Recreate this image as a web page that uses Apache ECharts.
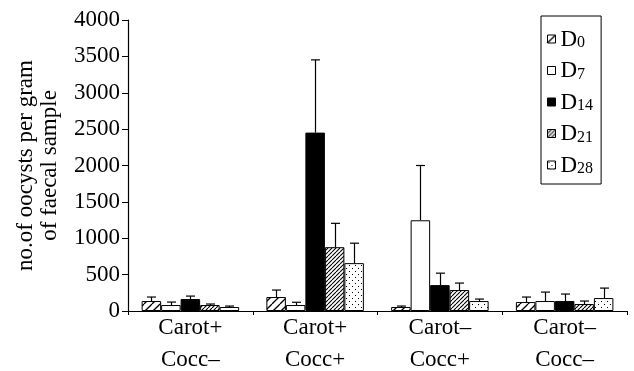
<!DOCTYPE html>
<html><head><meta charset="utf-8">
<script src="https://cdn.jsdelivr.net/npm/echarts@6/dist/echarts.min.js"></script>
<style>html,body{margin:0;padding:0;background:#fff}#c{width:634px;height:371px}</style>
</head><body><div id="c"></div>
<script>
const categories = ['Carot+\nCocc–', 'Carot+\nCocc+', 'Carot–\nCocc+', 'Carot–\nCocc–'];
const seriesNames = ['D0', 'D7', 'D14', 'D21', 'D28'];
const subs = ['0', '7', '14', '21', '28'];
const d0 = [137, 192, 55, 123];
const d7 = [82, 82, 1247, 137];
const d14 = [164, 2452, 356, 137];
const d21 = [82, 877, 288, 96];
const d28 = [55, 658, 137, 178];
const sd0 = [55, 96, 13, 69];
const sd7 = [41, 38, 753, 123];
const sd14 = [41, 1000, 164, 96];
const sd21 = [14, 328, 96, 41];
const sd28 = [13, 274, 27, 137];
const yTicks = [0, 500, 1000, 1500, 2000, 2500, 3000, 3500, 4000];

const means = [d0, d7, d14, d21, d28];
const sds = [sd0, sd7, sd14, sd21, sd28];

function pat(kind) {
  const c = document.createElement('canvas');
  const s = kind === 'sparse' ? 8 : (kind === 'dense' ? 4 : 6);
  c.width = s; c.height = s;
  const g = c.getContext('2d');
  g.fillStyle = '#fff'; g.fillRect(0, 0, s, s);
  g.strokeStyle = '#000'; g.fillStyle = '#000';
  if (kind === 'sparse' || kind === 'dense') {
    g.lineWidth = kind === 'sparse' ? 1.3 : 1.1;
    for (let k = -1; k <= 1; k++) {
      g.beginPath(); g.moveTo(k * s, s); g.lineTo(k * s + s, 0); g.stroke();
    }
  } else if (kind === 'dots') {
    g.fillRect(1, 1, 1, 1); g.fillRect(4, 4, 1, 1);
  }
  return c;
}
const fills = [
  {image: pat('sparse'), repeat: 'repeat'},
  '#ffffff',
  '#000000',
  {image: pat('dense'), repeat: 'repeat'},
  {image: pat('dots'), repeat: 'repeat'}
];
const BW = 19.5;
const font = 'Liberation Serif';

const series = [];
seriesNames.forEach((n, i) => {
  series.push({
    name: n, type: 'bar', data: means[i], barWidth: BW, barGap: '0%',
    itemStyle: {color: fills[i], borderColor: '#000', borderWidth: 1},
    emphasis: {disabled: true}
  });
});
seriesNames.forEach((n, i) => {
  series.push({
    type: 'custom', z: 5, silent: true,
    data: means[i].map((m, j) => [j, m, m + sds[i][j]]),
    renderItem: function (params, api) {
      const base = api.coord([api.value(0), api.value(1)]);
      const top = api.coord([api.value(0), api.value(2)]);
      const x = Math.round(base[0] + (i - 2) * BW) + 0.5;
      const style = {stroke: '#000', lineWidth: 1.2};
      return {type: 'group', children: [
        {type: 'line', shape: {x1: x, y1: base[1], x2: x, y2: top[1]}, style: style},
        {type: 'line', shape: {x1: x - 4.5, y1: top[1], x2: x + 4.5, y2: top[1]}, style: style}
      ]};
    }
  });
});

const chart = echarts.init(document.getElementById('c'));
chart.setOption({
  animation: false,
  backgroundColor: '#fff',
  grid: {left: 128, right: 7, top: 20, bottom: 60, containLabel: false, outerBoundsMode: 'none'},
  legend: {
    data: seriesNames, orient: 'vertical', left: 541, top: 16,
    backgroundColor: '#fff', borderColor: '#000', borderWidth: 1,
    padding: [7, 8, 7, 6], itemGap: 3.5,
    itemWidth: 8, itemHeight: 8, icon: 'rect',
    itemStyle: {borderColor: '#000', borderWidth: 1},
    formatter: function (name) { return '{d|D}{s|' + subs[seriesNames.indexOf(name)] + '}'; },
    textStyle: {
      color: '#000', fontFamily: font,
      rich: {
        d: {fontSize: 23, fontFamily: font, color: '#000', lineHeight: 24, verticalAlign: 'bottom'},
        s: {fontSize: 16, fontFamily: font, color: '#000', lineHeight: 24, verticalAlign: 'bottom', padding: [12, 0, 0, 0]}
      }
    }
  },
  xAxis: {
    type: 'category', data: categories, boundaryGap: true,
    axisLine: {lineStyle: {color: '#000', width: 1.2}},
    axisTick: {show: true, length: 4, lineStyle: {color: '#000'}},
    axisLabel: {color: '#000', fontFamily: font, fontSize: 23, lineHeight: 32, margin: 1}
  },
  yAxis: {
    type: 'value', min: 0, max: 4000, interval: 500,
    name: 'no.of oocysts per gram\nof faecal sample', nameLocation: 'middle', nameGap: 66, nameRotate: 90,
    nameTextStyle: {color: '#000', fontFamily: font, fontSize: 23, lineHeight: 24},
    splitLine: {show: false},
    axisLine: {show: true, lineStyle: {color: '#000', width: 1.2}},
    axisTick: {show: true, length: 6, lineStyle: {color: '#000'}},
    axisLabel: {color: '#000', fontFamily: font, fontSize: 23, margin: 8,
      formatter: function (v) { return yTicks.indexOf(v) >= 0 ? String(v) : ''; }}
  },
  series: series
});
</script></body></html>
